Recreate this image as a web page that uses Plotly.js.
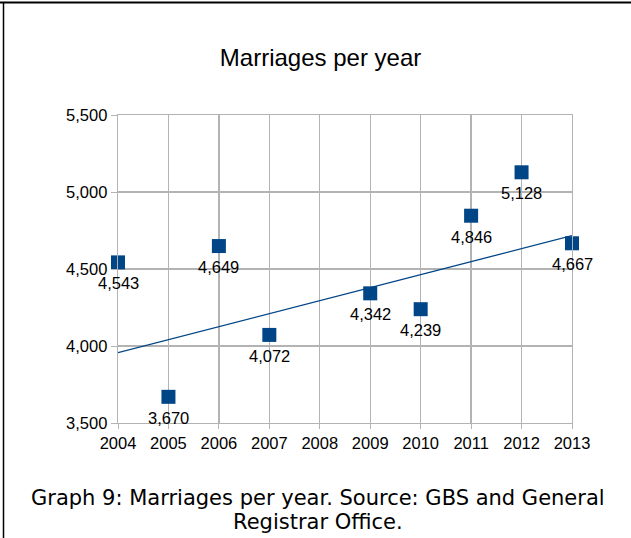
<!DOCTYPE html>
<html>
<head>
<meta charset="utf-8">
<script src="https://cdn.plot.ly/plotly-3.0.1.min.js"></script>
<style>
html,body{margin:0;padding:0;background:#fff;}
#chart{width:631px;height:538px;}
</style>
</head>
<body>
<div id="chart"></div>
<script>
// Data (2008 value lies below the axis minimum, so it is not drawn, as in the reference)
const years = [2004, 2005, 2006, 2007, 2008, 2009, 2010, 2011, 2012, 2013];
const marriages = [4543, 3670, 4649, 4072, 3210, 4342, 4239, 4846, 5128, 4667];
const yTicks = [3500, 4000, 4500, 5000, 5500];
const yRange = [3500, 5500];
const chartTitle = 'Marriages per year';
const captionLines = ['Graph 9: Marriages per year. Source: GBS and General', 'Registrar Office.'];

// Linear trend line (least squares) from all the data
const n = years.length;
const mx = years.reduce((a, b) => a + b, 0) / n;
const my = marriages.reduce((a, b) => a + b, 0) / n;
let sxy = 0, sxx = 0;
for (let i = 0; i < n; i++) {
  sxy += (years[i] - mx) * (marriages[i] - my);
  sxx += (years[i] - mx) * (years[i] - mx);
}
const slope = sxy / sxx;
const intercept = my - slope * mx;
const trendX = [years[0], years[n - 1]];
const trendY = trendX.map(x => intercept + slope * x);

// Points inside the visible range
const visX = [], visY = [];
years.forEach((x, i) => {
  if (marriages[i] >= yRange[0] && marriages[i] <= yRange[1]) { visX.push(x); visY.push(marriages[i]); }
});

const blue = '#004586';
const grid = '#b3b3b3';
const sans = 'Liberation Sans, Arial, sans-serif';

const traces = [
  {
    x: trendX, y: trendY, type: 'scatter', mode: 'lines',
    line: {color: blue, width: 1.3}, hoverinfo: 'skip', showlegend: false
  },
  {
    x: visX, y: visY, type: 'scatter', mode: 'markers',
    marker: {symbol: 'square', size: 14, color: blue},
    cliponaxis: false, showlegend: false
  }
];

const labelAnns = visX.map((x, i) => ({
  x: x, y: visY[i], xref: 'x', yref: 'y',
  text: visY[i].toLocaleString('en-US'),
  showarrow: false, xanchor: 'center', yanchor: 'middle', yshift: -21,
  font: {family: sans, size: 16.5, color: '#000'}
}));

const captionAnns = captionLines.map((t, i) => ({
  text: t, xref: 'paper', yref: 'paper',
  x: (318 - 118) / 454, y: (423 - (498 + 24 * i)) / 308,
  xanchor: 'center', yanchor: 'middle', showarrow: false,
  font: {family: 'DejaVu Sans, Verdana, sans-serif', size: 21, color: '#000'}
}));

const layout = {
  width: 631, height: 538,
  margin: {l: 118, r: 59, t: 115, b: 115},
  paper_bgcolor: '#fff', plot_bgcolor: '#fff',
  title: {
    text: chartTitle,
    font: {family: sans, size: 24, color: '#000'},
    x: 0.508, xanchor: 'center', xref: 'container',
    y: 1 - 58 / 538, yanchor: 'middle', yref: 'container'
  },
  xaxis: {
    range: [2004, 2013], tickvals: years, ticktext: years.map(String),
    showgrid: true, gridcolor: grid, gridwidth: 1.3,
    showline: true, linecolor: grid, linewidth: 1.3, mirror: true,
    ticks: 'outside', ticklen: 5, tickcolor: grid,
    tickfont: {family: sans, size: 16.5, color: '#000'},
    zeroline: false, fixedrange: true
  },
  yaxis: {
    range: yRange, tickvals: yTicks, tickformat: ',d',
    showgrid: true, gridcolor: grid, gridwidth: 1.3,
    showline: true, linecolor: grid, linewidth: 1.3, mirror: true,
    ticks: 'outside', ticklen: 6, tickcolor: grid,
    tickfont: {family: sans, size: 16.5, color: '#000'},
    zeroline: false, fixedrange: true
  },
  annotations: labelAnns.concat(captionAnns),
  shapes: [
    {type: 'line', xref: 'paper', yref: 'paper',
     x0: (0 - 118) / 454, x1: (631 - 118) / 454,
     y0: (423 - 2.5) / 308, y1: (423 - 2.5) / 308,
     line: {color: '#000', width: 2}},
    {type: 'line', xref: 'paper', yref: 'paper',
     x0: (3.5 - 118) / 454, x1: (3.5 - 118) / 454,
     y0: (423 - 2) / 308, y1: (423 - 538) / 308,
     line: {color: '#000', width: 1.5}}
  ]
};

Plotly.newPlot('chart', traces, layout, {displayModeBar: false, staticPlot: true});
</script>
</body>
</html>
